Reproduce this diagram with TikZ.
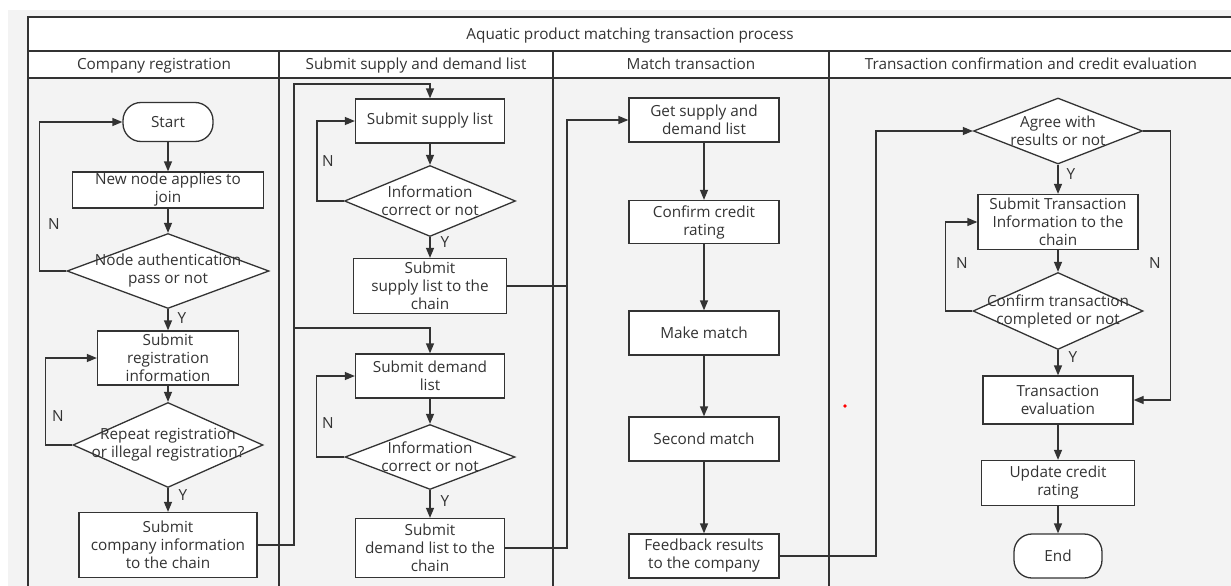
\documentclass[tikz,border=0pt]{standalone}
\usepackage{fontspec}
\setmainfont{Open Sans}
\usetikzlibrary{arrows.meta,shapes.geometric}
\definecolor{ink}{HTML}{333333}
\definecolor{lanebg}{HTML}{F3F3F3}
\begin{document}
\begin{tikzpicture}[x=1pt,y=-1pt,
  every node/.style={font=\fontsize{15.3}{18}\selectfont, text=ink},
  sz/.style 2 args={minimum width=#1pt, minimum height=#2pt},
  box/.style={draw=ink, line width=1.3pt, fill=white, align=center, inner sep=0pt},
  term/.style={box, rounded corners=18pt},
  dia/.style={draw=ink, line width=1.3pt, fill=white, diamond, inner sep=0pt},
  dtext/.style={align=center, inner sep=0pt},
  arr/.style={draw=ink, line width=1.3pt, -{Triangle[length=10pt,width=8pt]}},
  ln/.style={draw=ink, line width=1.3pt},
  frameline/.style={draw=ink, line width=1.3pt},
  head/.style={anchor=base, inner sep=0pt},
  yn/.style={font=\fontsize{15.3}{16}\selectfont, inner sep=0pt}]
\useasboundingbox (0,0) rectangle (1231,586);
% background
\fill[white] (0,0) rectangle (1231,586);
\fill[lanebg] (8,10) rectangle (1231,586);
\fill[white] (28,17) rectangle (1231,78);
\draw[frameline] (1231,17) -- (28,17) -- (28,586);
\draw[frameline] (28,51) -- (1231,51);
\draw[frameline] (28,78) -- (1231,78);
\draw[frameline] (279,51) -- (279,586);
\draw[frameline] (553,51) -- (553,586);
\draw[frameline] (829,51) -- (829,586);
\node[head] (title) at (630,40) {Aquatic product matching transaction process};
\node[head] (h1) at (154,70) {Company registration};
\node[head] (h2) at (416,70) {Submit supply and demand list};
\node[head] (h3) at (691,70) {Match transaction};
\node[head] (h4) at (1031,70) {Transaction confirmation and credit evaluation};
% lane 1
\node[term, sz={90}{39}] (start) at (168,122) {Start};
\node[box, sz={191}{36}] (new) at (168,190) {New node applies to\\join};
\node[dia, sz={202}{75}] (d1) at (168,271) {};
\node[dtext] (d1t) at (d1) {Node authentication\\pass or not};
\node[box, sz={141}{54}] (reg) at (168,358) {Submit\\registration\\information};
\node[dia, sz={190}{85}] (d2) at (168,445) {};
\node[dtext] (d2t) at (d2) {Repeat registration\\or illegal registration?};
\node[box, sz={178}{65}] (comp) at (168,545) {Submit\\company information\\to the chain};
% lane 2
\node[box, sz={149}{44}] (sup) at (430,121) {Submit supply list};
\node[dia, sz={171}{71}] (di1) at (430,201) {};
\node[dtext] (di1t) at (di1) {Information\\correct or not};
\node[box, sz={153}{55}] (supc) at (430,286) {Submit\\supply list to the\\chain};
\node[box, sz={149}{44}] (dem) at (430,376) {Submit demand\\list};
\node[dia, sz={170}{65}] (di2) at (430,457) {};
\node[dtext] (di2t) at (di2) {Information\\correct or not};
\node[box, sz={149}{59}] (demc) at (430,548) {Submit\\demand list to the\\chain};
% lane 3
\node[box, sz={150}{44}] (get) at (704,120) {Get supply and\\demand list};
\node[box, sz={150}{43}] (conf) at (704,222) {Confirm credit\\rating};
\node[box, sz={150}{44}] (make) at (704,333) {Make match};
\node[box, sz={150}{44}] (second) at (704,439) {Second match};
\node[box, sz={150}{44}] (feed) at (704,556) {Feedback results\\to the company};
% lane 4
\node[dia, sz={169}{66}] (agree) at (1058,131) {};
\node[dtext] (agreet) at (agree) {Agree with\\results or not};
\node[box, sz={160}{55}] (subt) at (1058,222) {Submit Transaction\\Information to the\\chain};
\node[dia, sz={170}{77}] (conf2) at (1058,311) {};
\node[dtext] (conf2t) at (conf2) {Confirm transaction\\completed or not};
\node[box, sz={150}{48}] (eval) at (1058,400) {Transaction\\evaluation};
\node[box, sz={153}{45}] (upd) at (1058,483) {Update credit\\rating};
\node[term, sz={88}{44}] (end) at (1058,556) {End};
% coordinates
\coordinate (c1) at (294,84);
\coordinate (c1b) at (294,328);
\coordinate (c2) at (567,286);
\coordinate (c3) at (876,556);
% lane 1 connectors
\draw[arr] (start) -- (new);
\draw[arr] (new) -- (d1);
\draw[arr] (d1) -- (reg);
\draw[arr] (reg) -- (d2);
\draw[arr] (d2) -- (comp);
\draw[arr] (d1.west) -- ++(-27,0) |- (start.west);
\draw[arr] (d2.west) -- ++(-27,0) |- (reg.west);
\draw[arr] (comp.east) -| (c1) -| (sup.north);
\draw[arr] (c1b) -| (dem.north);
% lane 2 connectors
\draw[arr] (sup) -- (di1);
\draw[arr] (di1) -- (supc);
\draw[arr] (di1.west) -- ++(-27,0) |- (sup.west);
\draw[arr] (dem) -- (di2);
\draw[arr] (di2) -- (demc);
\draw[arr] (di2.west) -- ++(-28,0) |- (dem.west);
\draw[arr] (supc.east) -- (c2) |- (get.west);
\draw[ln] (demc.east) -| (c2);
% lane 3 connectors
\draw[arr] (get) -- (conf);
\draw[arr] (conf) -- (make);
\draw[arr] (make) -- (second);
\draw[arr] (second) -- (feed);
\draw[arr] (feed.east) -- (c3) |- (agree.west);
% lane 4 connectors
\draw[arr] (agree) -- (subt);
\draw[arr] (subt) -- (conf2);
\draw[arr] (conf2) -- (eval);
\draw[arr] (eval) -- (upd);
\draw[arr] (upd) -- (end);
\draw[arr] (conf2.west) -- ++(-27,0) |- (subt.west);
\draw[arr] (agree.east) -- ++(27,0) |- (eval.east);
% labels
\node[yn] (n1) at (54,224) {N};
\node[yn] (y1) at (182,318) {Y};
\node[yn] (n2) at (58,416) {N};
\node[yn] (y2) at (183,495) {Y};
\node[yn] (n3) at (328,161) {N};
\node[yn] (y3) at (445,242) {Y};
\node[yn] (n4) at (328,423) {N};
\node[yn] (y4) at (445,501) {Y};
\node[yn] (y5) at (1071,174) {Y};
\node[yn] (n5) at (962,263) {N};
\node[yn] (n6) at (1155,263) {N};
\node[yn] (y6) at (1073,357) {Y};
\fill[red] (845,406) circle (1.8pt);
\end{tikzpicture}
\end{document}
